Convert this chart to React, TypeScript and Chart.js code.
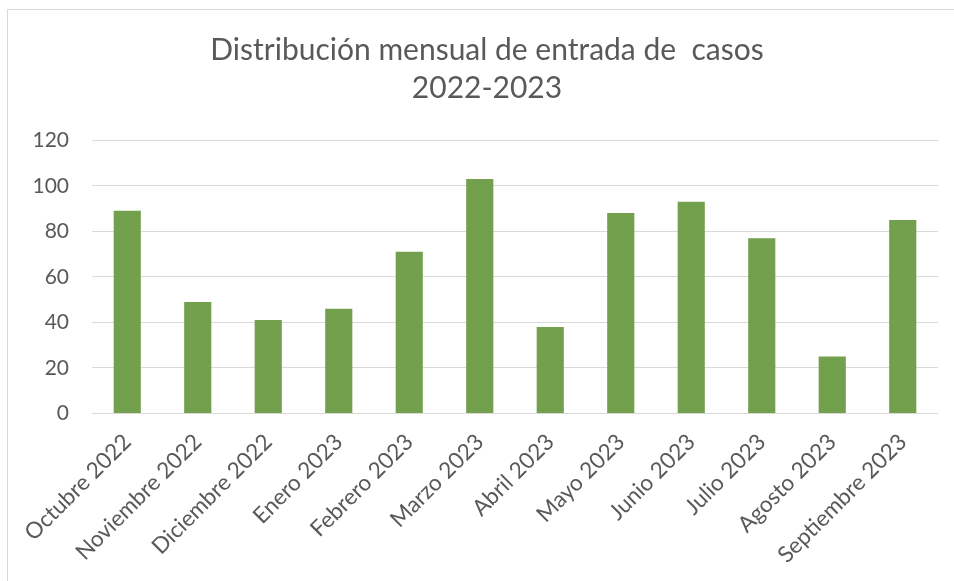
import React, { useEffect, useRef } from "react";
import { Chart, registerables } from "chart.js";

Chart.register(...registerables);

const categories = [
  "Octubre 2022",
  "Noviembre 2022",
  "Diciembre 2022",
  "Enero 2023",
  "Febrero 2023",
  "Marzo 2023",
  "Abril 2023",
  "Mayo 2023",
  "Junio 2023",
  "Julio 2023",
  "Agosto 2023",
  "Septiembre 2023",
];
const casos = [89, 49, 41, 46, 71, 103, 38, 88, 93, 77, 25, 85];
const titleLines = ["Distribución mensual de entrada de  casos", "2022-2023"];
const yMin = 0;
const yMax = 120;
const yStep = 20;

const FONT = "Lato, 'Open Sans', sans-serif";
const TEXT = "#595959";

export default function App() {
  const ref = useRef<HTMLCanvasElement>(null);
  useEffect(() => {
    document.body.style.margin = "0";
    const ctx = ref.current!;
    const chart = new Chart(ctx, {
      type: "bar",
      data: {
        labels: categories,
        datasets: [
          {
            data: casos,
            backgroundColor: "#72A04C",
            borderWidth: 0,
            categoryPercentage: 1,
            barPercentage: 0.385,
          },
        ],
      },
      options: {
        animation: false,
        responsive: false,
        maintainAspectRatio: false,
        layout: { padding: { left: 20, right: 0, top: 0, bottom: 0 } },
        plugins: {
          legend: { display: false },
          tooltip: { enabled: false },
          title: {
            display: true,
            text: titleLines,
            color: TEXT,
            font: { family: FONT, size: 30, weight: "normal", lineHeight: 1.27 },
            padding: { top: 31, bottom: 33 },
          },
        },
        scales: {
          x: {
            grid: { display: false, drawTicks: false },
            border: { display: false },
            ticks: {
              color: TEXT,
              font: { family: FONT, size: 22.5 },
              maxRotation: 45,
              minRotation: 45,
              padding: 15,
              autoSkip: false,
            },
            afterFit: (scale: any) => {
              scale.height = 167.5;
            },
          },
          y: {
            min: yMin,
            max: yMax,
            grid: { color: "#d9d9d9", lineWidth: 1, drawTicks: false },
            border: { display: false },
            ticks: {
              stepSize: yStep,
              color: TEXT,
              font: { family: FONT, size: 21 },
              padding: 23,
            },
            afterFit: (scale: any) => {
              scale.width = 72;
            },
          },
          yRight: {
            position: "right",
            display: true,
            grid: { display: false, drawTicks: false },
            border: { display: false },
            ticks: { display: false },
            afterFit: (scale: any) => {
              scale.width = 16;
            },
          },
        },
      },
    });
    return () => chart.destroy();
  }, []);
  return (
    <div
      style={{
        position: "fixed",
        left: 0,
        top: 0,
        width: 954,
        height: 581,
        overflow: "hidden",
        background: "#fff",
      }}
    >
      <div
        style={{
          position: "absolute",
          left: 7,
          top: 9,
          width: 1000,
          height: 1000,
          border: "1px solid #d9d9d9",
        }}
      />
      <canvas
        ref={ref}
        width={954}
        height={581}
        style={{ position: "absolute", left: 0, top: 0, width: 954, height: 581 }}
      />
    </div>
  );
}
